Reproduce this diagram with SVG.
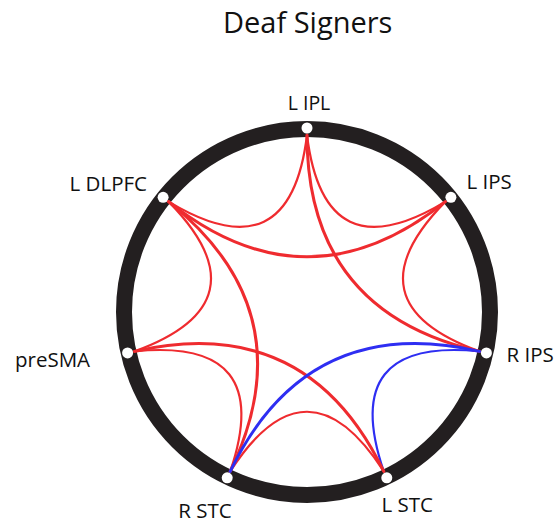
<svg xmlns="http://www.w3.org/2000/svg" width="560" height="525" viewBox="0 0 560 525">
  <style>
    .lbl { font-family: "Open Sans", "Liberation Sans", sans-serif; font-size: 20.5px; fill: #111111; }
    .title { font-family: "Open Sans", "Liberation Sans", sans-serif; font-size: 29px; fill: #111111; }
    .dot { fill: #ffffff; }
    .e { fill: none; stroke-linecap: round; }
    .red { stroke: #ef2b2f; }
    .blue { stroke: #2e2ef2; }
    .adj { stroke-width: 2.2; }
    .far { stroke-width: 3; }
  </style>
  <rect x="0" y="0" width="560" height="525" fill="#ffffff"/>
  <text class="title" x="307.7" y="33" text-anchor="middle">Deaf Signers</text>
  <circle id="ring" cx="307" cy="312" r="183" fill="none" stroke="#231f20" stroke-width="16"/>
  <g id="connectors">
    <!-- adjacent pairs -->
    <path class="e red adj" d="M307,135 Q324,275 445.38,201.64"/>
    <path class="e red adj" d="M445.38,201.64 Q346,303 479.56,351.39"/>
    <path class="e blue adj" d="M479.56,351.39 Q338,337 383.80,471.47"/>
    <path class="e red adj" d="M383.80,471.47 Q307,352 230.20,471.47"/>
    <path class="e red adj" d="M230.20,471.47 Q276,337 134.44,351.39"/>
    <path class="e red adj" d="M134.44,351.39 Q268,303 168.62,201.64"/>
    <path class="e red adj" d="M168.62,201.64 Q290,275 307,135"/>
    <!-- two-step pairs -->
    <path class="e red far" d="M307,135 Q307,312 479.56,351.39"/>
    <path class="e red far" d="M445.38,201.64 Q307,312 168.62,201.64"/>
    <path class="e red far" d="M168.62,201.64 Q307,312 230.20,471.47"/>
    <path class="e red far" d="M134.44,351.39 Q307,312 383.80,471.47"/>
    <path class="e blue far" d="M479.56,351.39 Q307,312 230.20,471.47"/>
  </g>
  <g id="node-L-IPL">
    <circle class="dot" cx="307" cy="128" r="5.5"/>
    <text class="lbl" x="309" y="110" text-anchor="middle" style="font-size:19.5px">L IPL</text>
  </g>
  <g id="node-L-IPS">
    <circle class="dot" cx="450.9" cy="197.3" r="5.5"/>
    <text class="lbl" x="466.5" y="188.5">L IPS</text>
  </g>
  <g id="node-R-IPS">
    <circle class="dot" cx="486.4" cy="352.9" r="5.5"/>
    <text class="lbl" x="506.5" y="361.5">R IPS</text>
  </g>
  <g id="node-L-STC">
    <circle class="dot" cx="386.8" cy="477.8" r="5.5"/>
    <text class="lbl" x="381.5" y="512">L STC</text>
  </g>
  <g id="node-R-STC">
    <circle class="dot" cx="227.2" cy="477.8" r="5.5"/>
    <text class="lbl" x="178.3" y="517.5">R STC</text>
  </g>
  <g id="node-preSMA">
    <circle class="dot" cx="127.6" cy="352.9" r="5.5"/>
    <text class="lbl" x="15" y="367">preSMA</text>
  </g>
  <g id="node-L-DLPFC">
    <circle class="dot" cx="163.1" cy="197.3" r="5.5"/>
    <text class="lbl" x="147" y="190.5" text-anchor="end">L DLPFC</text>
  </g>
</svg>
